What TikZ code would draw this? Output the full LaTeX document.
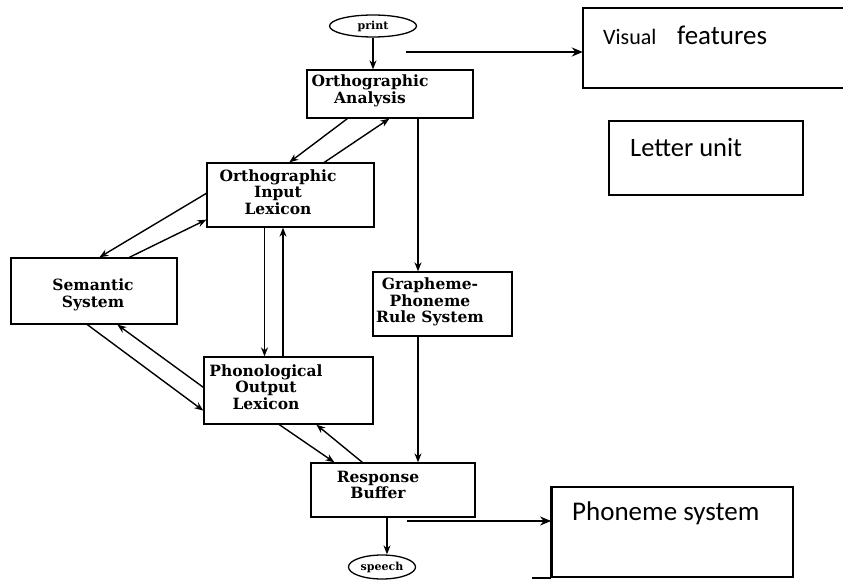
\documentclass[tikz,border=0pt]{standalone}
\usepackage{fontspec}
\setmainfont{DejaVu Serif}
\newfontfamily\calfont{Carlito}
\usetikzlibrary{arrows.meta,shapes.geometric}
\tikzset{
  flowbox/.style={draw, line width=1.3pt, inner sep=0pt},
  flowtext/.style={align=center, font=\fontsize{15.5}{16.5}\selectfont\bfseries, inner sep=0pt},
  oval/.style={draw, ellipse, line width=1.3pt, inner sep=0pt, font=\fontsize{11}{12}\selectfont\bfseries},
  arr/.style={line width=1.4pt, -{Stealth[length=9pt,width=7pt]}},
  sidebox/.style={draw, line width=1.8pt, inner sep=0pt},
  sidetext/.style={inner sep=0pt, anchor=base west},
  sidearr/.style={line width=1.8pt, -{Stealth[length=11pt,width=9pt]}}
}
\begin{document}
\begin{tikzpicture}[x=1pt,y=-1pt]
\useasboundingbox (0,0) rectangle (843,580);
% boxes
\node[oval, minimum width=87pt, minimum height=22pt] (print) at (373,26) {print};
\node[flowbox, minimum width=166pt, minimum height=48pt] (oa) at (390,94) {};
\node[flowbox, minimum width=167pt, minimum height=64pt] (oil) at (290.5,195) {};
\node[flowbox, minimum width=166pt, minimum height=66pt] (sem) at (94,291) {};
\node[flowbox, minimum width=139pt, minimum height=64pt] (gp) at (442.5,304) {};
\node[flowbox, minimum width=169pt, minimum height=67pt] (pol) at (288.5,390.5) {};
\node[flowbox, minimum width=164pt, minimum height=54pt] (rb) at (393,490) {};
\node[oval, minimum width=67pt, minimum height=24pt] (speech) at (382,567) {speech};
% texts
\node[flowtext] (oaT) at (370,91) {Orthographic\\Analysis};
\node[flowtext] (oilT) at (278,192) {Orthographic\\Input\\Lexicon};
\node[flowtext] (semT) at (93,295) {Semantic\\System};
\node[flowtext] (gpT) at (430,302) {Grapheme-\\Phoneme\\Rule System};
\node[flowtext] (polT) at (266,387) {Phonological\\Output\\Lexicon};
\node[flowtext] (rbT) at (378,485) {Response\\Buffer};
% connectors
\draw[arr] (print.south) -- (print.south |- oa.north);
\draw[arr] ([xshift=41pt]oa.south west) -- ([xshift=83pt]oil.north west);
\draw[arr] ([xshift=118pt]oil.north west) -- ([xshift=83pt]oa.south west);
\draw[arr] ([yshift=-31pt]oil.north west) -- ([xshift=89pt]sem.north west);
\draw[arr] ([xshift=119pt]sem.north west) -- ([yshift=8pt]oil.south west);
\draw[arr] ([xshift=77pt]sem.south west) -- ([yshift=14pt]pol.south west);
\draw[arr] ([yshift=-31pt]pol.north west) -- ([xshift=107pt]sem.south west);
\draw[arr] ([xshift=-26pt]oil.south) -- ([xshift=-26pt]oil.south |- pol.north);
\draw[arr] ([xshift=-5.5pt]pol.north) -- ([xshift=-5.5pt]pol.north |- oil.south);
\draw[arr] ([xshift=76pt]pol.south west) -- ([xshift=24pt]rb.north west);
\draw[arr] ([xshift=52pt]rb.north west) -- ([xshift=113pt]pol.south west);
\draw[arr] ([xshift=28pt]oa.south) -- ([xshift=28pt]oa.south |- gp.north);
\draw[arr] ([xshift=-24.5pt]gp.south) -- ([xshift=-24.5pt]gp.south |- rb.north);
\draw[arr] ([xshift=-6pt]rb.south) -- ([xshift=-6pt]rb.south |- speech.north);
% right side
\node[minimum width=260pt, minimum height=80pt, inner sep=0pt] (vf) at (713,48) {};
\draw[line width=1.8pt] (vf.north east) -- (vf.north west) -- (vf.south west) -- (vf.south east);
\node[sidetext, font=\calfont\fontsize{22}{24}\selectfont] (vfT1) at (603,45) {Visual};
\node[sidetext, font=\calfont\fontsize{27}{30}\selectfont] (vfT2) at (677,45) {features};
\node[sidebox, minimum width=194pt, minimum height=74pt] (lu) at (706,158) {};
\node[sidetext, font=\calfont\fontsize{26.5}{30}\selectfont] (luT) at (630,157) {Letter unit};
\node[sidebox, minimum width=241pt, minimum height=90pt] (ps) at (672.5,532) {};
\draw[line width=2.6pt] (ps.north west) -- (ps.south west);
\draw[line width=1.8pt] (ps.south west) -- ++(-19,0);
\node[sidetext, font=\calfont\fontsize{27}{30}\selectfont] (psT) at (572,520) {Phoneme system};
\coordinate (vfstart) at (406,52);
\coordinate (psstart) at (407,521);
\draw[sidearr] (vfstart) -- (vfstart -| vf.west);
\draw[sidearr] (psstart) -- (psstart -| ps.west);
\end{tikzpicture}
\end{document}
